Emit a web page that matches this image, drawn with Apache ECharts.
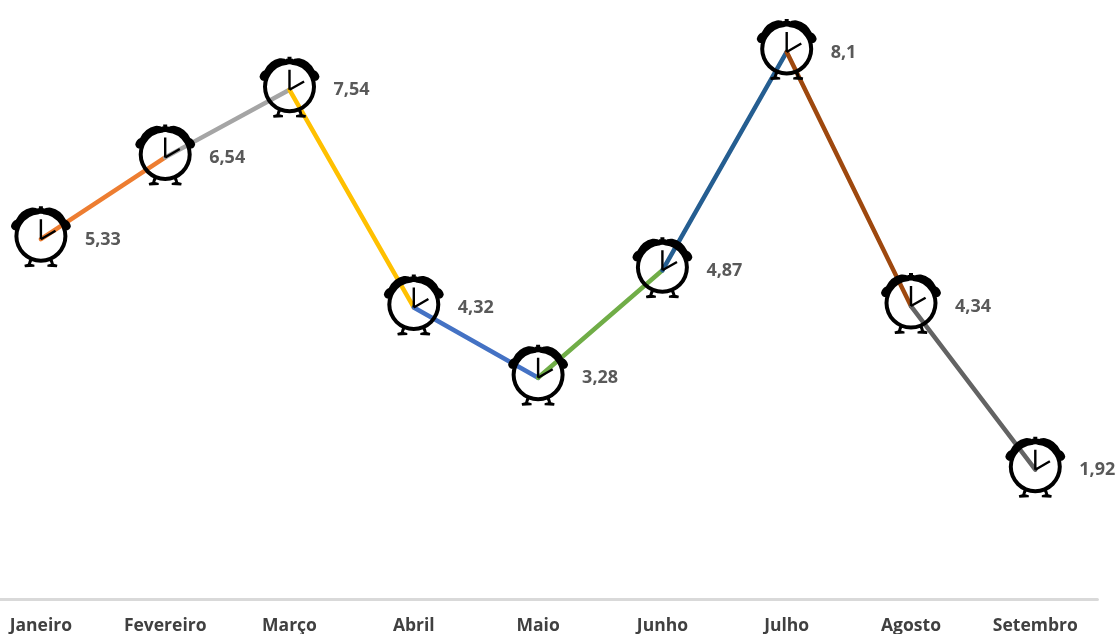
<!DOCTYPE html>
<html>
<head>
<meta charset="utf-8">
<style>html,body{margin:0;padding:0;background:#fff}#c{width:1115px;height:634px}</style>
<script src="https://cdn.jsdelivr.net/npm/echarts@6/dist/echarts.min.js"></script>
</head>
<body>
<div id="c"></div>
<script>
const months = ['Janeiro','Fevereiro','Março','Abril','Maio','Junho','Julho','Agosto','Setembro'];
const values = [5.33,6.54,7.54,4.32,3.28,4.87,8.1,4.34,1.92];
const labels = ['5,33','6,54','7,54','4,32','3,28','4,87','8,1','4,34','1,92'];
const segmentColors = ['#ED7D31','#A5A5A5','#FFC000','#4472C4','#70AD47','#255E91','#9E480E','#636363'];

const clock = 'path://' +
  'M3.5 30A26.5 26.5 0 1 1 56.5 30A26.5 26.5 0 1 1 3.5 30Z' +
  'M7.5 30A22.5 22.5 0 1 0 52.5 30A22.5 22.5 0 1 0 7.5 30Z' +
  'M0 20Q1 15 5 13.5Q10 3.5 20 1.5Q25 1 28 3.5L28 8A22.5 22.5 0 0 0 10.5 18.75L7 24Q1 25 0 20Z' +
  'M60 20Q59 25 53 24L49.5 18.75A22.5 22.5 0 0 0 32 8L32 3.5Q35 1 40 1.5Q50 3.5 55 13.5Q59 15 60 20Z' +
  'M28 0L32 0L32 2L33.5 2L33.5 7L26.5 7L26.5 2L28 2Z' +
  'M18.5 52.5L21.5 54L20 57.5L23.5 58.5L23.5 60.5L14 61L13.5 58.5L17 57.5Z' +
  'M38.5 54L41.5 52.5L43 57.5L46.5 58.5L46 61L36.5 60.5L36.5 58.5L40 57.5Z' +
  'M28.8 13L31.2 13L31.2 33L28.8 33Z' +
  'M29.4 32L44 23.6L45.2 25.6L30.6 34Z';

const series = segmentColors.map((color, i) => ({
  type: 'line',
  name: months[i],
  data: values.map((v, j) => (j === i || j === i + 1) ? v : null),
  showSymbol: false,
  symbol: 'none',
  lineStyle: { color, width: 4.5, cap: 'round' },
  z: 2,
  animation: false
}));
series.push({
  type: 'line',
  name: 'clocks',
  data: values,
  symbol: clock,
  symbolSize: [60, 61],
  symbolKeepAspect: false,
  symbolOffset: [0, -2.5],
  showAllSymbol: true,
  lineStyle: { width: 0, opacity: 0 },
  itemStyle: { color: '#000', opacity: 1 },
  z: 5,
  animation: false,
  label: {
    show: true,
    position: 'right',
    distance: 14,
    offset: [0, 3],
    color: '#595959',
    fontFamily: 'Open Sans',
    fontWeight: 'bold',
    fontSize: 18,
    formatter: p => labels[p.dataIndex]
  }
});

const chart = echarts.init(document.getElementById('c'), null, { renderer: 'canvas' });
chart.setOption({
  animation: false,
  backgroundColor: '#fff',
  grid: { left: -21.25, width: 1118.7, top: -8.9, height: 608.4, outerBoundsMode: 'none', containLabel: false },
  xAxis: {
    type: 'category',
    data: months,
    boundaryGap: true,
    axisTick: { show: false },
    axisLine: { show: true, onZero: false, lineStyle: { color: '#D9D9D9', width: 3 } },
    axisLabel: {
      color: '#404040',
      fontFamily: 'Open Sans',
      fontWeight: 'bold',
      fontSize: 17.5,
      margin: 18,
      interval: 0
    }
  },
  yAxis: {
    type: 'value',
    min: 0,
    max: 9,
    show: false,
    splitLine: { show: false }
  },
  series
});
</script>
</body>
</html>
